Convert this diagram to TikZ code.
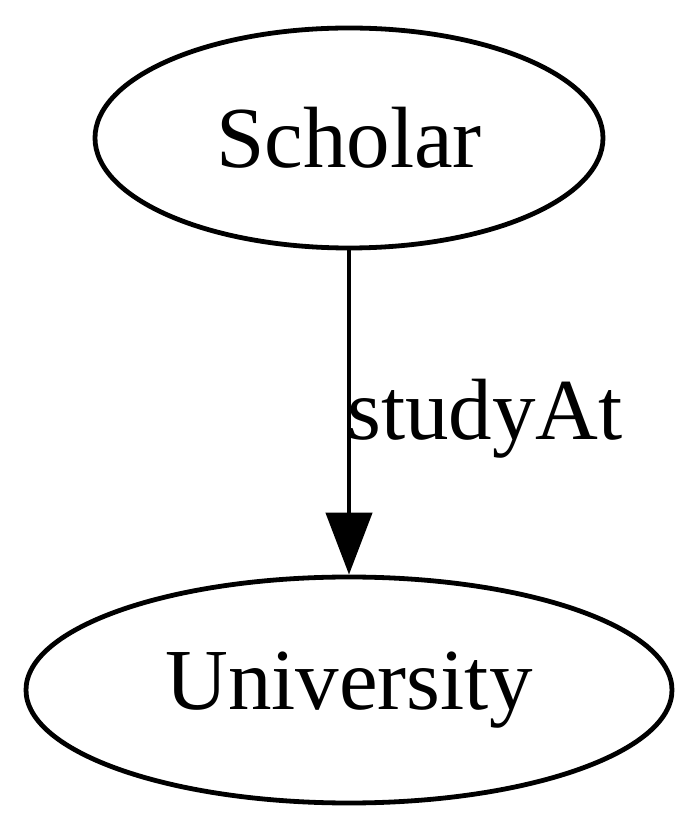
\documentclass[tikz,border=0pt]{standalone}
\usepackage{fontspec}
\setmainfont{Liberation Serif}
\usetikzlibrary{shapes.geometric,arrows.meta}
\begin{document}
\begin{tikzpicture}[x=1pt,y=1pt,
  gnode/.style={draw,ellipse,line width=4.8pt,inner sep=0pt,font=\fontsize{87}{100}\selectfont},
  gedge/.style={line width=4.5pt,-{Triangle[length=62pt,width=46pt]}},
  glabel/.style={font=\fontsize{87}{100}\selectfont,inner sep=0pt}]
\useasboundingbox (0,0) rectangle (700,831);
\node[gnode,minimum width=508pt,minimum height=220pt] (scholar) at (349,693) {Scholar};
\node[gnode,minimum width=646pt,minimum height=226pt] (univ) at (349,141) {University};
\draw[gedge] (scholar.south) -- (univ.north);
\node[glabel,anchor=base west] (lbl) at (347,391) {studyAt};
\end{tikzpicture}
\end{document}
